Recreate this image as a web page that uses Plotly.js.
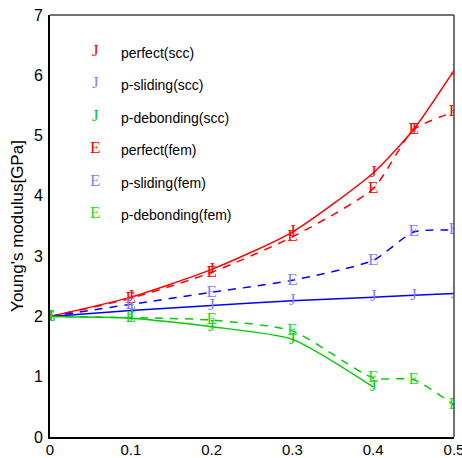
<!DOCTYPE html>
<html>
<head>
<meta charset="utf-8">
<script src="https://cdn.plot.ly/plotly-3.0.1.min.js"></script>
<style>html,body{margin:0;padding:0;background:#fff;}#chart{width:462px;height:458px;}</style>
</head>
<body>
<div id="chart"></div>
<script>
// Data
var xFull = [0, 0.1, 0.2, 0.3, 0.4, 0.45, 0.5];
var xDebondScc = [0, 0.1, 0.2, 0.3, 0.4];
var perfectScc = [2.0, 2.32, 2.78, 3.40, 4.38, 5.10, 6.08];
var perfectFem = [2.0, 2.30, 2.73, 3.32, 4.12, 5.10, 5.39];
var slidingScc = [2.0, 2.10, 2.18, 2.26, 2.32, 2.35, 2.38];
var slidingFem = [2.0, 2.20, 2.40, 2.60, 2.93, 3.40, 3.43];
var debondScc = [2.0, 1.97, 1.83, 1.62, 0.83];
var debondFem = [2.0, 1.98, 1.94, 1.76, 0.98, 0.95, 0.53];
var legendLabels = ['perfect(scc)', 'p-sliding(scc)', 'p-debonding(scc)', 'perfect(fem)', 'p-sliding(fem)', 'p-debonding(fem)'];
var legendSymbols = ['J', 'J', 'J', 'E', 'E', 'E'];
var xTicks = [0, 0.1, 0.2, 0.3, 0.4, 0.5];
var xTickText = ['0', '0.1', '0.2', '0.3', '0.4', '0.5'];

var RED = '#ff0000', BLUE = '#0000ff', LBLUE = '#8080ff', GREEN = '#00cc00', LGREEN = '#22dd22';
var serif = 'Liberation Serif, Times New Roman, serif';

function lineTrace(x, y, color, dash) {
  return {x: x, y: y, type: 'scatter', mode: 'lines', showlegend: false, hoverinfo: 'skip',
    line: {color: color, width: 1.5, dash: dash, shape: 'spline', smoothing: 0.6}};
}
function markTrace(x, y, sym, color) {
  return {x: x, y: y, type: 'scatter', mode: 'text', showlegend: false, hoverinfo: 'skip',
    text: x.map(function(){return sym;}), textposition: 'middle center',
    textfont: {family: serif, size: 17, color: color}};
}

var dash = '8px,7px';
var data = [
  lineTrace(xFull, perfectScc, RED, 'solid'),
  lineTrace(xFull, perfectFem, RED, dash),
  lineTrace(xFull, slidingScc, BLUE, 'solid'),
  lineTrace(xFull, slidingFem, BLUE, dash),
  lineTrace(xDebondScc, debondScc, GREEN, 'solid'),
  lineTrace(xFull, debondFem, GREEN, dash),
  markTrace(xFull, perfectScc, 'J', RED),
  markTrace(xFull, slidingScc, 'J', LBLUE),
  markTrace(xDebondScc, debondScc, 'J', GREEN),
  markTrace(xFull, perfectFem, 'E', RED),
  markTrace(xFull, slidingFem, 'E', LBLUE),
  markTrace(xFull, debondFem, 'E', LGREEN)
];

var legendColors = [RED, LBLUE, GREEN, RED, LBLUE, LGREEN];
var annotations = [];
var rowY = [53, 85, 118, 150, 183, 215];
for (var i = 0; i < legendLabels.length; i++) {
  var yp = 1 - (rowY[i] - 15) / 422;
  var xs = (95 - 50) / 404, xl = (119 - 50) / 404;
  annotations.push({xref: 'paper', yref: 'paper', x: xs, y: yp + 0.005, xanchor: 'center', yanchor: 'middle',
    text: legendSymbols[i], showarrow: false, font: {family: serif, size: 17, color: legendColors[i]}});
  annotations.push({xref: 'paper', yref: 'paper', x: xl, y: yp, xanchor: 'left', yanchor: 'middle',
    text: legendLabels[i], showarrow: false, font: {family: 'Liberation Sans, Arial, sans-serif', size: 14, color: '#000'}});
}

var layout = {
  width: 462, height: 458,
  margin: {l: 50, r: 8, t: 15, b: 21, pad: 0},
  paper_bgcolor: '#fff', plot_bgcolor: '#fff',
  showlegend: false,
  font: {family: 'Liberation Sans, Arial, sans-serif', size: 16, color: '#000'},
  xaxis: {range: [0, 0.5], tickvals: xTicks, ticktext: xTickText,
    showgrid: false, zeroline: false, showline: true, linecolor: '#000', linewidth: 2, ticks: '',
    tickfont: {size: 15}, ticklabelstandoff: -2, ticklabeloverflow: 'allow'},
  yaxis: {range: [0, 7], dtick: 1, showgrid: false, zeroline: false, showline: true, linecolor: '#000', linewidth: 2,
    ticks: '', tickfont: {size: 16}, ticklabelstandoff: 2, ticklabeloverflow: 'allow',
    title: {text: "Young's modulus[GPa]", font: {size: 17}, standoff: 6}},
  shapes: [
    {type: 'line', xref: 'paper', yref: 'paper', x0: 0, x1: 1, y0: 1, y1: 1, line: {color: '#444', width: 1.5}},
    {type: 'line', xref: 'paper', yref: 'paper', x0: 1, x1: 1, y0: 0, y1: 1, line: {color: '#444', width: 1.5}}
  ],
  annotations: annotations
};

Plotly.newPlot('chart', data, layout, {staticPlot: true, displayModeBar: false});
</script>
</body>
</html>
